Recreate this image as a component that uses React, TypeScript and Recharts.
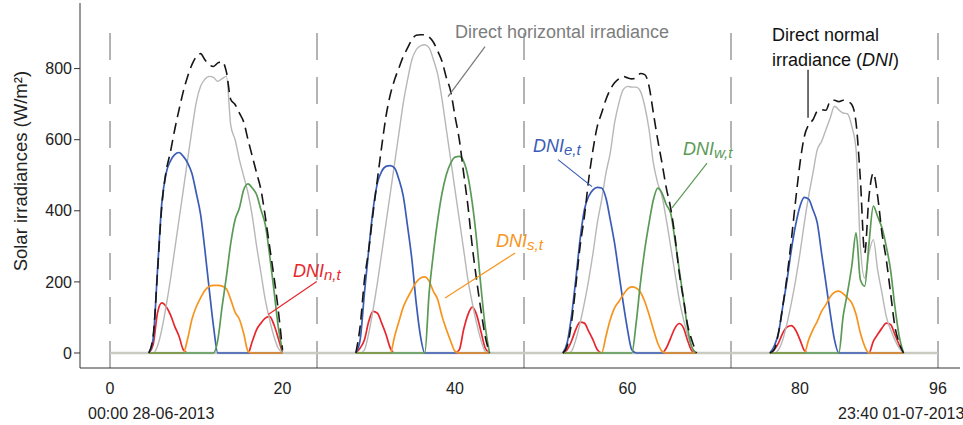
import { LineChart, Line, XAxis, YAxis, ReferenceLine, ReferenceDot } from 'recharts'

// hours of each daylight window, relative to midnight of that day
const hoursOfDay = [4.5, 5, 5.5, 6, 6.5, 7, 7.5, 8, 8.5, 9, 9.5, 10, 10.5, 11, 11.5, 12, 12.5, 13, 13.5, 14, 14.5, 15, 15.5, 16, 16.5, 17, 17.5, 18, 18.5, 19, 19.5, 20]
const dayStarts = [0, 24, 48, 72]
const dayBounds = [0, 24, 48, 72, 96]
const xTicks = [0, 20, 40, 60, 80, 96]
const yTicks = [0, 200, 400, 600, 800]
const startStamp = '00:00 28-06-2013'
const endStamp = '23:40 01-07-2013'

// Direct normal irradiance (dashed black)
const dniDays = [
  [0, 47, 225, 412, 510, 565, 628, 684, 736, 778, 811, 834, 842, 825, 811, 806, 816, 820, 790, 713, 699, 675, 650, 600, 553, 506, 459, 384, 300, 216, 122, 9],
  [0, 75, 206, 291, 394, 488, 581, 666, 727, 769, 802, 834, 858, 881, 894, 895, 895, 889, 874, 849, 820, 774, 736, 666, 600, 506, 413, 300, 206, 122, 47, 0],
  [0, 19, 84, 188, 300, 384, 488, 572, 638, 675, 713, 741, 760, 771, 778, 774, 771, 774, 786, 783, 750, 675, 600, 534, 464, 408, 328, 225, 150, 75, 33, 0],
  [0, 9, 56, 131, 216, 319, 431, 534, 609, 642, 656, 680, 684, 683, 708, 711, 707, 711, 708, 699, 647, 488, 281, 441, 506, 441, 338, 263, 169, 75, 28, 0],
]
// Direct horizontal irradiance (grey)
const dhiDays = [
  [0, 0, 19, 66, 131, 206, 291, 375, 459, 544, 628, 705, 750, 770, 778, 775, 764, 772, 778, 640, 600, 544, 497, 450, 384, 300, 225, 150, 94, 47, 14, 0],
  [0, 0, 9, 56, 122, 197, 281, 366, 450, 534, 619, 703, 769, 825, 853, 864, 867, 858, 825, 783, 713, 628, 544, 459, 375, 291, 206, 141, 84, 37, 5, 0],
  [0, 0, 5, 37, 84, 141, 206, 281, 366, 431, 506, 563, 647, 703, 741, 750, 748, 748, 736, 694, 628, 534, 478, 441, 375, 300, 225, 150, 94, 47, 14, 0],
  [0, 0, 9, 37, 84, 141, 206, 281, 366, 441, 506, 572, 595, 628, 661, 694, 684, 675, 673, 638, 572, 300, 211, 281, 319, 234, 169, 103, 66, 37, 14, 0],
]
// DNI on the east face
const eastDays = [
  [0, 40, 230, 420, 505, 540, 558, 564, 553, 535, 505, 450, 390, 290, 180, 75, 0, 0, 0, 0, 0, 0, 0, 0, 0, 0, 0, 0, 0, 0, 0, 0],
  [0, 37, 169, 291, 403, 478, 511, 525, 527, 520, 488, 441, 356, 263, 141, 47, 0, 0, 0, 0, 0, 0, 0, 0, 0, 0, 0, 0, 0, 0, 0, 0],
  [0, 28, 103, 206, 319, 403, 441, 459, 466, 464, 436, 375, 309, 225, 141, 66, 9, 0, 0, 0, 0, 0, 0, 0, 0, 0, 0, 0, 0, 0, 0, 0],
  [0, 19, 56, 131, 206, 291, 361, 413, 438, 433, 403, 366, 281, 197, 113, 37, 0, 0, 0, 0, 0, 0, 0, 0, 0, 0, 0, 0, 0, 0, 0, 0],
]
// DNI on the south face
const southDays = [
  [0, 0, 0, 0, 0, 0, 0, 0, 0, 40, 95, 130, 155, 176, 187, 190, 190, 188, 180, 150, 115, 95, 55, 5, 0, 0, 0, 0, 0, 0, 0, 0],
  [0, 0, 0, 0, 0, 0, 0, 0, 0, 47, 89, 129, 155, 178, 199, 211, 214, 202, 173, 150, 103, 66, 33, 5, 0, 0, 0, 0, 0, 0, 0, 0],
  [0, 0, 0, 0, 0, 0, 0, 0, 0, 0, 47, 94, 127, 145, 164, 180, 186, 183, 171, 145, 108, 66, 28, 5, 0, 0, 0, 0, 0, 0, 0, 0],
  [0, 0, 0, 0, 0, 0, 0, 0, 0, 37, 66, 89, 117, 136, 158, 171, 174, 167, 155, 141, 108, 56, 19, 0, 0, 0, 0, 0, 0, 0, 0, 0],
]
// DNI on the west face
const westDays = [
  [0, 0, 0, 0, 0, 0, 0, 0, 0, 0, 0, 0, 0, 0, 0, 0, 37, 131, 216, 309, 375, 408, 459, 476, 464, 445, 403, 361, 277, 178, 75, 5],
  [0, 0, 0, 0, 0, 0, 0, 0, 0, 0, 0, 0, 0, 0, 0, 0, 0, 169, 281, 375, 450, 502, 534, 551, 553, 539, 497, 422, 319, 188, 75, 0],
  [0, 0, 0, 0, 0, 0, 0, 0, 0, 0, 0, 0, 0, 0, 0, 0, 0, 84, 197, 291, 366, 431, 464, 450, 417, 394, 319, 234, 150, 66, 14, 0],
  [0, 0, 0, 0, 0, 0, 0, 0, 0, 0, 0, 0, 0, 0, 0, 0, 0, 103, 169, 244, 338, 206, 188, 309, 413, 384, 352, 300, 234, 131, 47, 0],
]
// DNI on the north face
const northDays = [
  [0, 23, 112, 141, 131, 108, 75, 47, 9, 0, 0, 0, 0, 0, 0, 0, 0, 0, 0, 0, 0, 0, 0, 0, 33, 66, 84, 98, 103, 80, 42, 0],
  [0, 14, 37, 89, 117, 112, 84, 52, 14, 0, 0, 0, 0, 0, 0, 0, 0, 0, 0, 0, 0, 0, 0, 0, 9, 66, 108, 129, 108, 61, 14, 0],
  [0, 9, 33, 66, 87, 84, 61, 37, 9, 0, 0, 0, 0, 0, 0, 0, 0, 0, 0, 0, 0, 0, 0, 0, 14, 42, 70, 83, 70, 33, 5, 0],
  [0, 9, 28, 56, 73, 77, 64, 37, 7, 0, 0, 0, 0, 0, 0, 0, 0, 0, 0, 0, 0, 0, 0, 0, 33, 52, 70, 84, 80, 52, 23, 0],
]

const FONT = 'Liberation Sans, Arial, Helvetica, sans-serif'
const Y_MIN = -42.2
const Y_MAX = 984.5
const C = {
  dni: '#161616',
  dhi: '#b7b7b7',
  east: '#3a5cb6',
  south: '#f7941d',
  west: '#5b9a56',
  north: '#e8262b',
  base: '#c8cbc2',
  sep: '#8c8c8c',
  axis: '#333',
  text: '#222',
}

// rows at day boundaries only carry the baseline, which also breaks each series between days
const rows: any[] = dayBounds.map((t) => ({ t, base: 0 }))
dayStarts.forEach((start, d) => {
  hoursOfDay.forEach((h, i) => {
    rows.push({
      t: start + h,
      dni: dniDays[d][i],
      dhi: dhiDays[d][i],
      east: eastDays[d][i],
      south: southDays[d][i],
      west: westDays[d][i],
      north: northDays[d][i],
    })
  })
})
rows.sort((a, b) => a.t - b.t)

const XTick = ({ x, y, payload }: any) => (
  <g>
    <text x={x} y={y + 24} textAnchor="middle" fontSize={16} fill={C.text}>{payload.value}</text>
    {payload.value === 0 && <text x={x - 22} y={y + 49} fontSize={16} fill={C.text}>{startStamp}</text>}
    {payload.value === 96 && <text x={x - 100} y={y + 49} fontSize={16} fill={C.text}>{endStamp}</text>}
  </g>
)

const subLabel = (main: string, sub: string, color: string) => (p: any) => (
  <text x={p.cx} y={p.cy} fill={color} fontStyle="italic">
    <tspan fontSize={18}>{main}</tspan>
    <tspan fontSize={15} dy={3}>{sub}</tspan>
  </text>
)

export default function App() {
  return (
    <div style={{ position: 'absolute', left: 0, top: 0, width: 963, height: 425, background: '#fff', overflow: 'hidden' }}>
      <LineChart
        width={963}
        height={425}
        data={rows}
        margin={{ top: 3, right: 3, left: 0, bottom: 0 }}
        style={{ fontFamily: FONT }}
      >
        <XAxis
          dataKey="t"
          type="number"
          domain={[-3.48, 98.55]}
          ticks={xTicks}
          interval={0}
          allowDataOverflow
          height={57}
          tickLine={false}
          tickSize={0}
          axisLine={{ stroke: C.axis }}
          tick={(p: any) => <XTick {...p} />}
        />
        <YAxis
          type="number"
          domain={[Y_MIN, Y_MAX]}
          ticks={yTicks}
          interval={0}
          allowDataOverflow
          width={80}
          tickSize={6}
          axisLine={{ stroke: C.axis }}
          tickLine={{ stroke: C.axis }}
          tick={{ fontSize: 16, fill: C.text }}
        />

        {dayBounds.map((d) => (
          <ReferenceLine
            key={d}
            segment={[{ x: d, y: Y_MIN }, { x: d, y: 932 }]}
            stroke={C.sep}
            strokeWidth={1.3}
            strokeDasharray="27 17"
            ifOverflow="visible"
          />
        ))}

        {/* north and horizontal sit under the baseline so their zero stretches stay grey */}
        <Line dataKey="north" type="monotone" stroke={C.north} strokeWidth={1.7} dot={false} isAnimationActive={false} />
        <Line dataKey="dhi" type="monotone" stroke={C.dhi} strokeWidth={1.4} dot={false} isAnimationActive={false} />
        <Line dataKey="base" type="linear" stroke={C.base} strokeWidth={2.5} dot={false} connectNulls isAnimationActive={false} />
        <Line dataKey="east" type="monotone" stroke={C.east} strokeWidth={1.7} dot={false} isAnimationActive={false} />
        <Line dataKey="south" type="monotone" stroke={C.south} strokeWidth={1.7} dot={false} isAnimationActive={false} />
        <Line dataKey="west" type="monotone" stroke={C.west} strokeWidth={1.7} dot={false} isAnimationActive={false} />
        <Line dataKey="dni" type="monotone" stroke={C.dni} strokeWidth={1.6} strokeDasharray="11 6" dot={false} isAnimationActive={false} />

        {/* leader lines */}
        <ReferenceLine segment={[{ x: 43.48, y: 862 }, { x: 39.19, y: 721 }]} stroke="#777" strokeWidth={1.2} ifOverflow="visible" />
        <ReferenceLine segment={[{ x: 80.93, y: 797 }, { x: 80.93, y: 662 }]} stroke="#111" strokeWidth={1.2} ifOverflow="visible" />
        <ReferenceLine segment={[{ x: 51.94, y: 544 }, { x: 55.88, y: 468 }]} stroke={C.east} strokeWidth={1.2} ifOverflow="visible" />
        <ReferenceLine segment={[{ x: 69.22, y: 534 }, { x: 65.16, y: 408 }]} stroke={C.west} strokeWidth={1.2} ifOverflow="visible" />
        <ReferenceLine segment={[{ x: 46.96, y: 281 }, { x: 38.84, y: 155 }]} stroke={C.south} strokeWidth={1.2} ifOverflow="visible" />
        <ReferenceLine segment={[{ x: 23.97, y: 201 }, { x: 18.35, y: 108 }]} stroke={C.north} strokeWidth={1.2} ifOverflow="visible" />

        {/* annotations */}
        <ReferenceDot x={40.0} y={886} r={0} ifOverflow="visible"
          shape={(p: any) => <text x={p.cx} y={p.cy} fontSize={18} fill="#7d7d7d">Direct horizontal irradiance</text>} />
        <ReferenceDot x={76.75} y={877} r={0} ifOverflow="visible"
          shape={(p: any) => <text x={p.cx} y={p.cy} fontSize={18} fill="#111">Direct normal</text>} />
        <ReferenceDot x={76.75} y={806} r={0} ifOverflow="visible"
          shape={(p: any) => (
            <text x={p.cx} y={p.cy} fontSize={18} fill="#111">
              irradiance (<tspan fontStyle="italic">DNI</tspan>)
            </text>
          )} />
        <ReferenceDot x={49.04} y={566} r={0} ifOverflow="visible" shape={subLabel('DNI', 'e,t', C.east)} />
        <ReferenceDot x={66.43} y={558} r={0} ifOverflow="visible" shape={subLabel('DNI', 'w,t', C.west)} />
        <ReferenceDot x={44.75} y={299} r={0} ifOverflow="visible" shape={subLabel('DNI', 's,t', C.south)} />
        <ReferenceDot x={21.22} y={215} r={0} ifOverflow="visible" shape={subLabel('DNI', 'n,t', C.north)} />
        <ReferenceDot x={-9.62} y={511.5} r={0} ifOverflow="visible"
          shape={(p: any) => (
            <text x={p.cx} y={p.cy} fontSize={18.5} fill={C.text} textAnchor="middle" transform={`rotate(-90 ${p.cx} ${p.cy})`}>
              Solar irradiances (W/m²)
            </text>
          )} />
      </LineChart>
    </div>
  )
}
